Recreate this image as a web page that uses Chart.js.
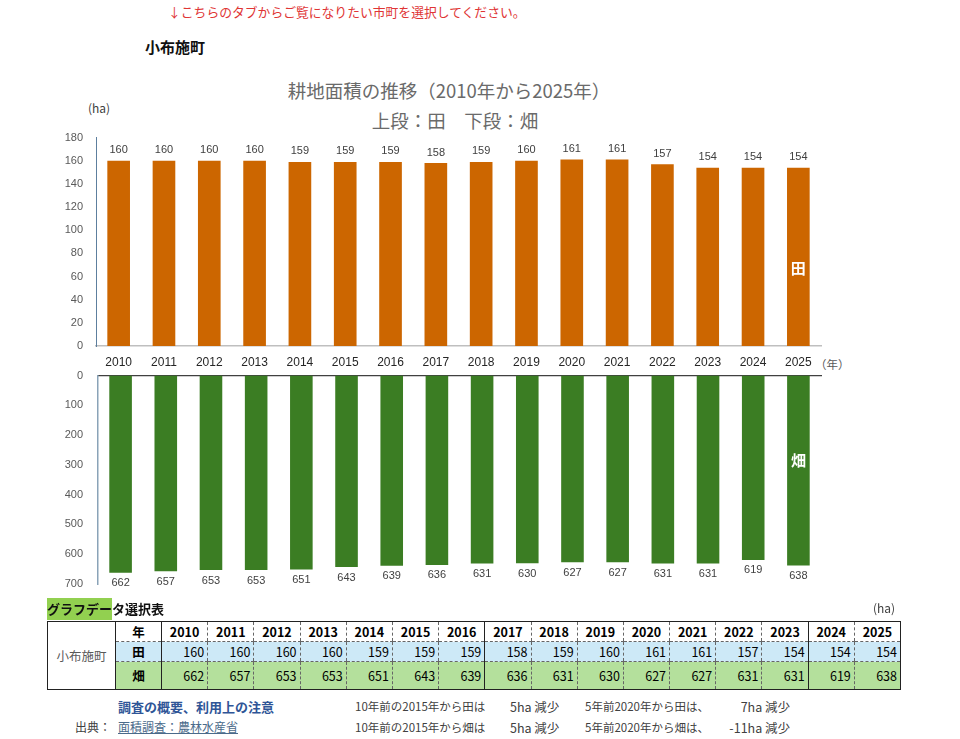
<!DOCTYPE html>
<html lang="ja">
<head>
<meta charset="utf-8">
<title>耕地面積の推移</title>
<script src="https://cdn.jsdelivr.net/npm/chart.js@4.4.1/dist/chart.umd.min.js"></script>
<style>
  body { margin: 0; width: 960px; height: 739px; background: #fff; position: relative; overflow: hidden;
         font-family: "Noto Sans CJK JP", "Noto Sans", sans-serif; }
  .abs { position: absolute; white-space: nowrap; }
  canvas { position: absolute; left: 0; }
  #notice { left: 168px; top: 2px; font-size: 12.8px; color: #e03535; }
  #town { left: 145px; top: 36px; font-size: 15px; font-weight: bold; color: #111; }
  #title { left: 0; width: 898px; top: 77px; text-align: center; font-size: 18.5px; color: #6a6a6a; }
  #subtitle { left: 0; width: 910px; top: 107px; text-align: center; font-size: 18.5px; color: #6a6a6a; }
  #unit { left: 88px; top: 99px; font-size: 12px; color: #404040; }
  #yearUnit { left: 815px; top: 356px; font-size: 11.5px; color: #595959; }
  #tblTitle { left: 47px; top: 598px; font-size: 13px; font-weight: bold; color: #111; }
  #tblTitle span { background: #92d050; display: inline-block; height: 22px; line-height: 22px; }
  #tblUnit { left: 873px; top: 599px; font-size: 12px; color: #404040; }
  table { position: absolute; left: 47px; top: 621px; border-collapse: collapse; font-size: 12.5px;
          table-layout: fixed; border: 1px solid #222; }
  td { padding: 0 3px; height: 19px; line-height: 19px; border-left: 1px dashed #666; border-bottom: 1px dashed #666; }
  tr.head td { font-weight: bold; text-align: center; }
  tr.ta td.v { background: #cde9f7; text-align: right; }
  tr.ha td { height: 27px; }
  tr.ha td.v { background: #b4e09c; text-align: right; }
  tr.head td.town { border-right: 1px solid #222; border-bottom: none; color: #595959; text-align: center; font-weight: normal; }
  td.lab { text-align: center; font-weight: bold; border-right: 1px solid #222; }
  td.solid { border-left: 1px solid #222; }
  tr.ha td { border-bottom: none; }
  #note1 { left: 118px; top: 697px; font-size: 13px; font-weight: bold; color: #2f5597; }
  #src { left: 75px; top: 718px; font-size: 12px; color: #404040; }
  #srcLink { left: 118px; top: 718px; font-size: 12px; color: #4a6a8a; text-decoration: underline; }
  .cmp { font-size: 11.5px; color: #404040; }
</style>
</head>
<body>
<div class="abs" id="notice">↓こちらのタブからご覧になりたい市町を選択してください。</div>
<div class="abs" id="town">小布施町</div>
<div class="abs" id="title">耕地面積の推移（2010年から2025年）</div>
<div class="abs" id="subtitle">上段：田　下段：畑</div>
<div class="abs" id="unit">(ha)</div>
<div class="abs" id="yearUnit">（年）</div>

<canvas id="paddyChart" width="960" height="260" style="top:126px"></canvas>
<canvas id="fieldChart" width="960" height="242" style="top:362px"></canvas>

<div class="abs" id="tblTitle"><span>グラフデー</span>タ選択表</div>
<div class="abs" id="tblUnit">(ha)</div>
<table id="dataTable"></table>

<div class="abs" id="note1">調査の概要、利用上の注意</div>
<div class="abs" id="src">出典：</div>
<div class="abs" id="srcLink">面積調査：農林水産省</div>
<div class="abs cmp" style="left:355px;top:698px">10年前の2015年から田は</div>
<div class="abs cmp" style="left:510px;top:697px;font-size:12.5px">5ha 減少</div>
<div class="abs cmp" style="left:585px;top:698px">5年前2020年から田は、</div>
<div class="abs cmp" style="left:740px;top:697px;font-size:12.5px;width:50px;text-align:right">7ha 減少</div>
<div class="abs cmp" style="left:355px;top:719px">10年前の2015年から畑は</div>
<div class="abs cmp" style="left:510px;top:718px;font-size:12.5px">5ha 減少</div>
<div class="abs cmp" style="left:585px;top:719px">5年前2020年から畑は、</div>
<div class="abs cmp" style="left:720px;top:718px;font-size:12.5px;width:70px;text-align:right">-11ha 減少</div>

<script>
const years = ['2010', '2011', '2012', '2013', '2014', '2015', '2016', '2017',
               '2018', '2019', '2020', '2021', '2022', '2023', '2024', '2025'];
const paddyArea = [160, 160, 160, 160, 159, 159, 159, 158, 159, 160, 161, 161, 157, 154, 154, 154];
const fieldArea = [662, 657, 653, 653, 651, 643, 639, 636, 631, 630, 627, 627, 631, 631, 619, 638];
const paddyTicks = [0, 20, 40, 60, 80, 100, 120, 140, 160, 180];
const fieldTicks = [0, 100, 200, 300, 400, 500, 600, 700];

const tickFont = { family: '"Liberation Sans", Arial, sans-serif', size: 11 };
const yearFont = { family: '"Liberation Sans", Arial, sans-serif', size: 12 };

// draws the value above/below each bar and the series tag inside the last bar
const valueLabels = {
    id: 'valueLabels',
    afterDatasetsDraw(chart, args, opts) {
        const ctx = chart.ctx;
        const meta = chart.getDatasetMeta(0);
        const values = chart.data.datasets[0].data;
        ctx.save();
        ctx.font = '11px "Liberation Sans", Arial, sans-serif';
        ctx.fillStyle = '#404040';
        ctx.textAlign = 'center';
        meta.data.forEach((bar, i) => {
            if (opts.below) {
                ctx.textBaseline = 'top';
                ctx.fillText(values[i], bar.x, bar.y + opts.offset);
            } else {
                ctx.textBaseline = 'bottom';
                ctx.fillText(values[i], bar.x, bar.y - opts.offset);
            }
        });
        const last = meta.data[meta.data.length - 1];
        ctx.font = 'bold 15px "Noto Sans CJK JP", sans-serif';
        ctx.fillStyle = '#ffffff';
        ctx.textBaseline = 'middle';
        ctx.fillText(opts.tag, last.x, chart.scales.y.getPixelForValue(opts.tagValue));
        ctx.restore();
    }
};

function fixedWidth(w) { return scale => { scale.width = w; }; }
function fixedHeight(h) { return scale => { scale.height = h; }; }

new Chart(document.getElementById('paddyChart'), {
    type: 'bar',
    data: {
        labels: years,
        datasets: [{ data: paddyArea, backgroundColor: '#cc6600', barPercentage: 0.5, categoryPercentage: 1.0 }]
    },
    options: {
        responsive: false,
        animation: false,
        layout: { padding: { left: 40, right: 139, top: 3, bottom: 16 } },
        plugins: {
            legend: { display: false },
            tooltip: { enabled: false },
            valueLabels: { below: false, offset: 5, tag: '田', tagValue: 67 }
        },
        scales: {
            x: {
                grid: { display: false },
                border: { color: '#bfbfbf', width: 1.5 },
                ticks: { color: '#262626', font: yearFont, padding: 1, maxRotation: 0 },
                afterFit: fixedHeight(24)
            },
            y: {
                min: 0, max: 180,
                grid: { display: false },
                border: { color: '#5d7f9e', width: 1 },
                afterBuildTicks: scale => { scale.ticks = paddyTicks.map(v => ({ value: v })); },
                ticks: { color: '#595959', font: tickFont, padding: 5 },
                afterFit: fixedWidth(56)
            }
        }
    },
    plugins: [valueLabels]
});

new Chart(document.getElementById('fieldChart'), {
    type: 'bar',
    data: {
        labels: years,
        datasets: [{ data: fieldArea, backgroundColor: '#3b7d23', barPercentage: 0.5, categoryPercentage: 1.0 }]
    },
    options: {
        responsive: false,
        animation: false,
        layout: { padding: { left: 40, right: 139, top: 8, bottom: 20 } },
        plugins: {
            legend: { display: false },
            tooltip: { enabled: false },
            valueLabels: { below: true, offset: 5, tag: '畑', tagValue: 285 }
        },
        scales: {
            x: {
                position: 'top',
                grid: { display: false },
                border: { color: '#404040', width: 1.2 },
                ticks: { display: false },
                afterFit: fixedHeight(0)
            },
            y: {
                reverse: true,
                min: 0, max: 700,
                grid: { display: false },
                border: { color: '#8aa3b8', width: 1.5 },
                afterBuildTicks: scale => { scale.ticks = fieldTicks.map(v => ({ value: v })); },
                ticks: { color: '#595959', font: tickFont, padding: 7 },
                afterFit: fixedWidth(58)
            }
        }
    },
    plugins: [valueLabels]
});

// data table under the chart
const table = document.getElementById('dataTable');
const solidBefore = ['2017', '2024'];
let html = '<colgroup><col style="width:68px"><col style="width:46px">' +
    years.map(() => '<col style="width:46.2px">').join('') + '</colgroup>';
html += '<tr class="head"><td class="town" rowspan="3">小布施町</td><td class="lab">年</td>' +
    years.map(y => `<td class="${solidBefore.includes(y) ? 'solid' : ''}">${y}</td>`).join('') + '</tr>';
html += '<tr class="ta"><td class="lab v" style="text-align:center">田</td>' +
    paddyArea.map((v, i) => `<td class="v ${solidBefore.includes(years[i]) ? 'solid' : ''}">${v}</td>`).join('') + '</tr>';
html += '<tr class="ha"><td class="lab v" style="text-align:center">畑</td>' +
    fieldArea.map((v, i) => `<td class="v ${solidBefore.includes(years[i]) ? 'solid' : ''}">${v}</td>`).join('') + '</tr>';
table.innerHTML = html;
</script>
</body>
</html>
